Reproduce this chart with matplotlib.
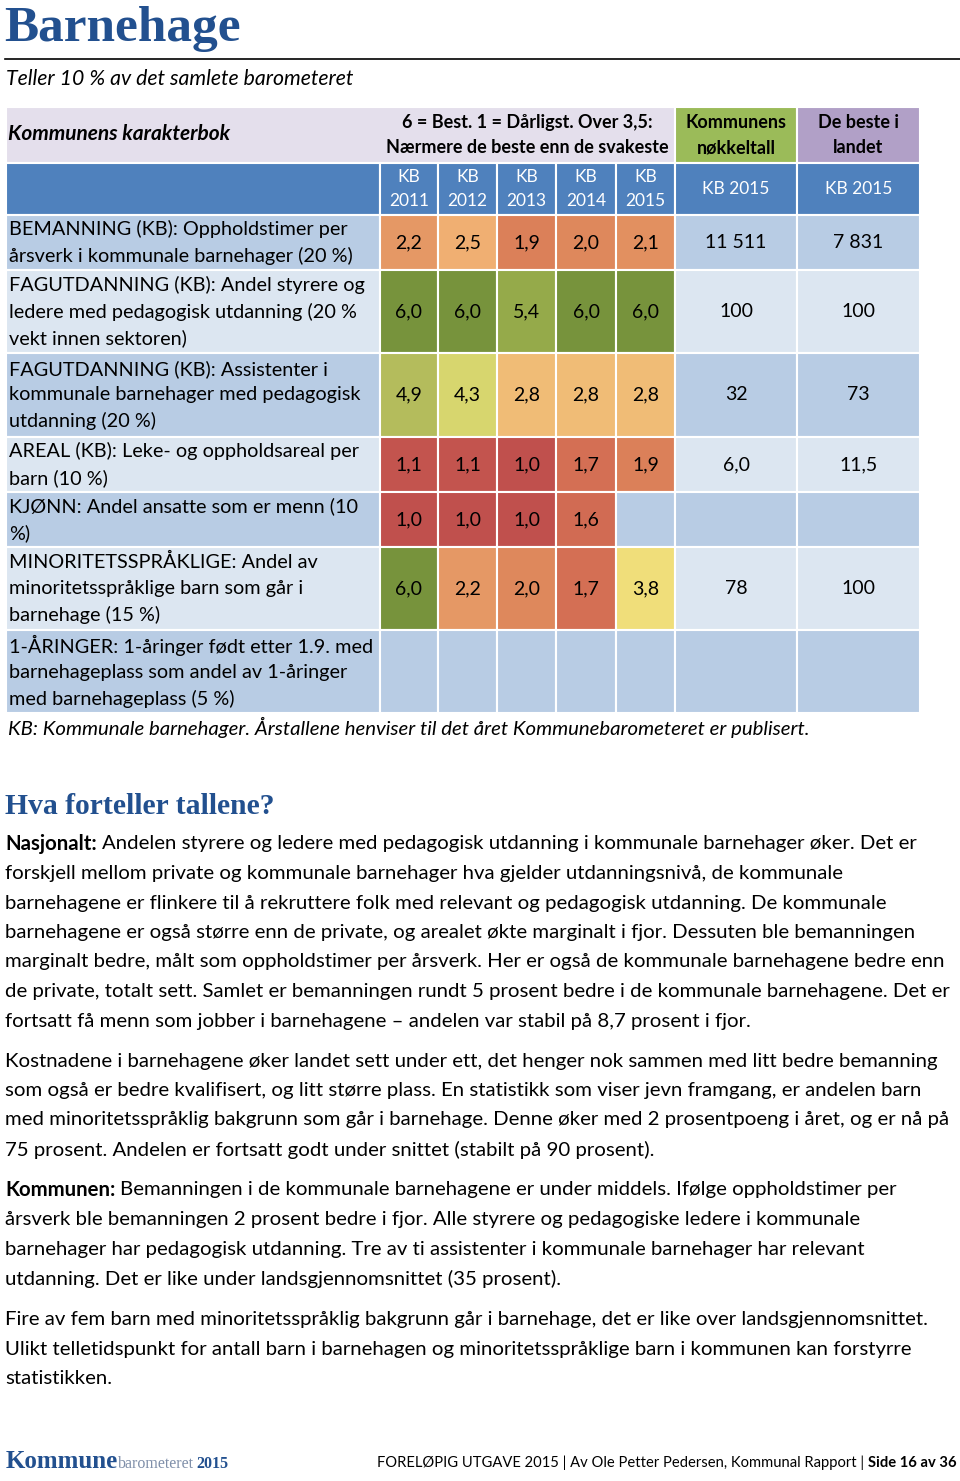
import numpy as np
import matplotlib
matplotlib.use("Agg")
from matplotlib import pyplot as plt
from matplotlib.patches import Rectangle
from matplotlib.colors import LinearSegmentedColormap

# ---- data ----
years = ["KB\n2011", "KB\n2012", "KB\n2013", "KB\n2014", "KB\n2015"]
indicators = [
    "BEMANNING (KB): Oppholdstimer per\nårsverk i kommunale barnehager (20 %)",
    "FAGUTDANNING (KB): Andel styrere og\nledere med pedagogisk utdanning (20 %\nvekt innen sektoren)",
    "FAGUTDANNING (KB): Assistenter i\nkommunale barnehager med pedagogisk\nutdanning (20 %)",
    "AREAL (KB): Leke- og oppholdsareal per\nbarn (10 %)",
    "KJØNN: Andel ansatte som er menn (10\n%)",
    "MINORITETSSPRÅKLIGE: Andel av\nminoritetsspråklige barn som går i\nbarnehage (15 %)",
    "1-ÅRINGER: 1-åringer født etter 1.9. med\nbarnehageplass som andel av 1-åringer\nmed barnehageplass (5 %)",
]
grades = [
    [2.2, 2.5, 1.9, 2.0, 2.1],
    [6.0, 6.0, 5.4, 6.0, 6.0],
    [4.9, 4.3, 2.8, 2.8, 2.8],
    [1.1, 1.1, 1.0, 1.7, 1.9],
    [1.0, 1.0, 1.0, 1.6, None],
    [6.0, 2.2, 2.0, 1.7, 3.8],
    [None, None, None, None, None],
]
kommune_tall = ["11 511", "100", "32", "6,0", "", "78", ""]
beste_tall = ["7 831", "100", "73", "11,5", "", "100", ""]

para1 = [
    "Andelen styrere og ledere med pedagogisk utdanning i kommunale barnehager øker. Det er",
    "forskjell mellom private og kommunale barnehager hva gjelder utdanningsnivå, de kommunale",
    "barnehagene er flinkere til å rekruttere folk med relevant og pedagogisk utdanning. De kommunale",
    "barnehagene er også større enn de private, og arealet økte marginalt i fjor. Dessuten ble bemanningen",
    "marginalt bedre, målt som oppholdstimer per årsverk. Her er også de kommunale barnehagene bedre enn",
    "de private, totalt sett. Samlet er bemanningen rundt 5 prosent bedre i de kommunale barnehagene. Det er",
    "fortsatt få menn som jobber i barnehagene – andelen var stabil på 8,7 prosent i fjor.",
]
para2 = [
    "Kostnadene i barnehagene øker landet sett under ett, det henger nok sammen med litt bedre bemanning",
    "som også er bedre kvalifisert, og litt større plass. En statistikk som viser jevn framgang, er andelen barn",
    "med minoritetsspråklig bakgrunn som går i barnehage. Denne øker med 2 prosentpoeng i året, og er nå på",
    "75 prosent. Andelen er fortsatt godt under snittet (stabilt på 90 prosent).",
]
para3 = [
    "Bemanningen i de kommunale barnehagene er under middels. Ifølge oppholdstimer per",
    "årsverk ble bemanningen 2 prosent bedre i fjor. Alle styrere og pedagogiske ledere i kommunale",
    "barnehager har pedagogisk utdanning. Tre av ti assistenter i kommunale barnehager har relevant",
    "utdanning. Det er like under landsgjennomsnittet (35 prosent).",
]
para4 = [
    "Fire av fem barn med minoritetsspråklig bakgrunn går i barnehage, det er like over landsgjennomsnittet.",
    "Ulikt telletidspunkt for antall barn i barnehagen og minoritetsspråklige barn i kommunen kan forstyrre",
    "statistikken.",
]

# ---- style ----
plt.rcParams["font.family"] = ["Lato", "DejaVu Sans"]
BLUE_TITLE = "#22508F"
LAVENDER = "#E4DFEC"
GREEN_HEAD = "#9BBB59"
PURPLE_HEAD = "#B1A0C7"
BLUE_HEAD = "#4F81BD"
ROW_DARK = "#B8CCE4"
ROW_LIGHT = "#DCE6F1"

grade_cmap = LinearSegmentedColormap.from_list("grade", [
    (0.0, (192/255, 80/255, 77/255)),
    (0.14, (212/255, 112/255, 84/255)),
    (0.2, (222/255, 136/255, 92/255)),
    (0.3, (240/255, 176/255, 114/255)),
    (0.36, (240/255, 188/255, 118/255)),
    (0.56, (240/255, 222/255, 122/255)),
    (0.66, (215/255, 214/255, 110/255)),
    (0.78, (180/255, 188/255, 92/255)),
    (0.88, (150/255, 170/255, 74/255)),
    (1.0, (119/255, 147/255, 60/255)),
])

fig = plt.figure(figsize=(9.6, 14.81), dpi=100)
ax = fig.add_axes([0, 0, 1, 1])
ax.set_xlim(0, 960)
ax.set_ylim(1481, 0)
ax.axis("off")

# ---- heading ----
ax.text(4, 29, "Barnehage", fontsize=37, fontweight="bold", family="Liberation Serif",
        color=BLUE_TITLE, va="center", ha="left")
ax.plot([5, 960], [59, 59], color="black", lw=1.2)
ax.text(6, 79, "Teller 10 % av det samlete barometeret", fontsize=15.3, style="italic",
        va="center", ha="left")

# ---- table layout ----
col_edges = [380, 438, 497, 556, 616, 675, 797, 920]
row_edges = [215, 270, 353, 437, 492, 547, 630, 713]
left = 6

def cell(x0, x1, y0, y1, color):
    ax.add_patch(Rectangle((x0, y0), x1 - x0, y1 - y0, facecolor=color,
                           edgecolor="white", lw=1.5))

# header rows
cell(left, col_edges[5], 107, 163, LAVENDER)
cell(col_edges[5], col_edges[6], 107, 163, GREEN_HEAD)
cell(col_edges[6], col_edges[7], 107, 163, PURPLE_HEAD)
ax.text(8, 134, "Kommunens karakterbok", fontsize=15, fontweight="bold", style="italic",
        va="center")
ax.text((col_edges[0] + col_edges[5]) / 2, 135,
        "6 = Best. 1 = Dårligst. Over 3,5:\nNærmere de beste enn de svakeste",
        fontsize=13, fontweight="bold", ha="center", va="center", linespacing=1.6)
ax.text((col_edges[5] + col_edges[6]) / 2, 135, "Kommunens\nnøkkeltall", fontsize=13,
        fontweight="bold", ha="center", va="center", linespacing=1.6)
ax.text((col_edges[6] + col_edges[7]) / 2, 135, "De beste i\nlandet", fontsize=13,
        fontweight="bold", ha="center", va="center", linespacing=1.6)

cell(left, col_edges[0], 163, 215, BLUE_HEAD)
for i, yr in enumerate(years):
    cell(col_edges[i], col_edges[i + 1], 163, 215, BLUE_HEAD)
    ax.text((col_edges[i] + col_edges[i + 1]) / 2, 189, yr, color="white", fontsize=12.5,
            ha="center", va="center", linespacing=1.6)
for j in (5, 6):
    cell(col_edges[j], col_edges[j + 1], 163, 215, BLUE_HEAD)
    ax.text((col_edges[j] + col_edges[j + 1]) / 2, 189, "KB 2015", color="white",
            fontsize=12.5, ha="center", va="center")

# body rows
for r, label in enumerate(indicators):
    y0, y1 = row_edges[r], row_edges[r + 1]
    yc = (y0 + y1) / 2
    bg = ROW_DARK if r % 2 == 0 else ROW_LIGHT
    cell(left, col_edges[0], y0, y1, bg)
    ax.text(9, yc, label, fontsize=14.3, ha="left", va="center", linespacing=1.6)
    for c in range(5):
        g = grades[r][c]
        if g is None:
            cell(col_edges[c], col_edges[c + 1], y0, y1, ROW_DARK)
        else:
            cell(col_edges[c], col_edges[c + 1], y0, y1, grade_cmap((g - 1) / 5))
            ax.text((col_edges[c] + col_edges[c + 1]) / 2, yc, f"{g:.1f}".replace(".", ","),
                    fontsize=14, ha="center", va="center")
    for j, vals in ((5, kommune_tall), (6, beste_tall)):
        cell(col_edges[j], col_edges[j + 1], y0, y1, bg)
        ax.text((col_edges[j] + col_edges[j + 1]) / 2, yc, vals[r], fontsize=14,
                ha="center", va="center")

ax.text(8, 727, "KB: Kommunale barnehager. Årstallene henviser til det året "
        "Kommunebarometeret er publisert.", fontsize=14.7, style="italic", va="center")

# ---- text section ----
ax.text(5, 806, "Hva forteller tallene?", fontsize=21.3, fontweight="bold",
        family="Liberation Serif", color=BLUE_TITLE, va="center")

fig.canvas.draw()
renderer = fig.canvas.get_renderer()

def paragraph(lines, y_start, prefix=None, fs=14.7):
    y = y_start
    for k, line in enumerate(lines):
        x = 5
        if k == 0 and prefix:
            t = ax.text(x, y, prefix, fontsize=fs, fontweight="bold", va="center")
            x += t.get_window_extent(renderer).width + 5
        ax.text(x, y, line, fontsize=fs, va="center")
        y += 29.5

paragraph(para1, 844, "Nasjonalt:")
paragraph(para2, 1061)
paragraph(para3, 1190, "Kommunen:")
paragraph(para4, 1320)

# ---- footer ----
t = ax.text(6, 1461, "Kommune", fontsize=18, fontweight="bold", family="Liberation Serif",
            color=BLUE_TITLE, va="center")
x = 6 + t.get_window_extent(renderer).width
t = ax.text(x, 1464, "barometeret", fontsize=11.5, family="Liberation Serif",
            color="#7f8fa9", va="center")
x += t.get_window_extent(renderer).width + 2
ax.text(x, 1464, "2015", fontsize=11.5, fontweight="bold", family="Liberation Serif",
        color=BLUE_TITLE, va="center")

t = ax.text(957, 1463, "Side 16 av 36", fontsize=10.6, fontweight="bold", ha="right",
            va="center")
xr = 957 - t.get_window_extent(renderer).width - 4
ax.text(xr, 1463, "FORELØPIG UTGAVE 2015 | Av Ole Petter Pedersen, Kommunal Rapport |",
        fontsize=10.6, ha="right", va="center")

fig.savefig("out.png", dpi=100)
